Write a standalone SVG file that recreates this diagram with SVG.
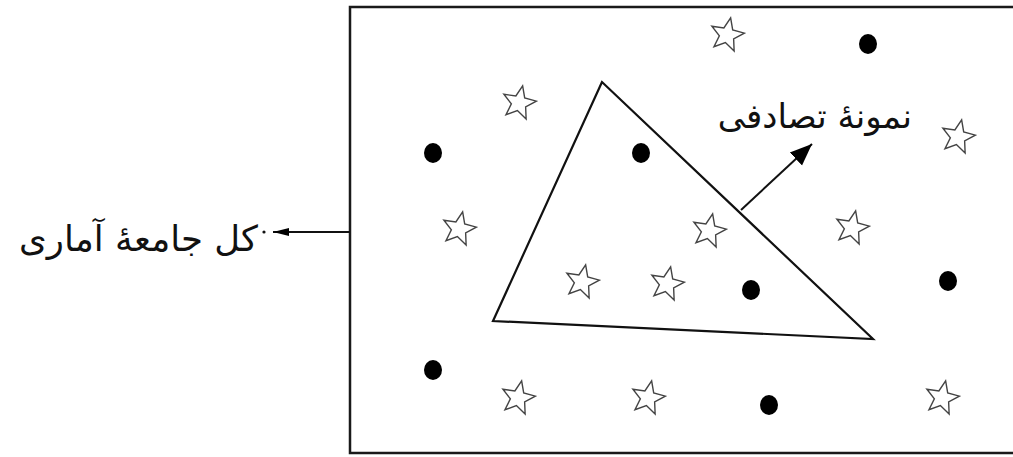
<svg xmlns="http://www.w3.org/2000/svg" width="1013" height="457" viewBox="0 0 1013 457">
<style>
.frame{fill:none;stroke:#1a1a1a;stroke-width:2.5}
.tri{fill:none;stroke:#111;stroke-width:2.2;stroke-linejoin:miter}
.dot{fill:#000}
.star{fill:none;stroke:#444;stroke-width:1.4;stroke-linejoin:miter}
.conn{fill:none;stroke:#111;stroke-width:2}
.lbl{font-family:"DejaVu Sans","Noto Sans",sans-serif;fill:#111}
</style>
<defs>
<path id="st" d="M0,-17.5 L4.5,-6.2 L16.6,-5.4 L7.3,2.4 L10.3,14.2 L0,7.7 L-10.3,14.2 L-7.3,2.4 L-16.6,-5.4 L-4.5,-6.2 Z"/>
<marker id="ahBig" markerWidth="24" markerHeight="20" refX="22" refY="10" orient="auto" markerUnits="userSpaceOnUse">
<path d="M0,1 L22,10 L0,19 Z" fill="#000"/>
</marker>
<marker id="ahSmall" markerWidth="18" markerHeight="10" refX="16" refY="5" orient="auto" markerUnits="userSpaceOnUse">
<path d="M0,1 L16,5 L0,9 Z" fill="#000"/>
</marker>
</defs>
<rect width="1013" height="457" fill="#fff"/>
<g id="population">
<path class="frame" d="M1020,7 L350,7 L350,453 L1020,453"/>
</g>
<g id="sample">
<polygon class="tri" points="602,82 493,321 873,339"/>
</g>
<g id="dots">
<ellipse class="dot" cx="868" cy="44" rx="9" ry="10"/>
<ellipse class="dot" cx="433" cy="153" rx="9" ry="10"/>
<ellipse class="dot" cx="641" cy="153" rx="9" ry="10"/>
<ellipse class="dot" cx="948" cy="281" rx="9" ry="10"/>
<ellipse class="dot" cx="751" cy="290" rx="9" ry="10"/>
<ellipse class="dot" cx="433" cy="370" rx="9" ry="10"/>
<ellipse class="dot" cx="769" cy="405" rx="9" ry="10"/>
</g>
<g id="stars">
<use href="#st" class="star" transform="translate(727,35) rotate(12)"/>
<use href="#st" class="star" transform="translate(519,103) rotate(12)"/>
<use href="#st" class="star" transform="translate(958,137) rotate(12)"/>
<use href="#st" class="star" transform="translate(459,229) rotate(12)"/>
<use href="#st" class="star" transform="translate(709,231) rotate(12)"/>
<use href="#st" class="star" transform="translate(852,228) rotate(12)"/>
<use href="#st" class="star" transform="translate(582,282) rotate(12)"/>
<use href="#st" class="star" transform="translate(667,284) rotate(12)"/>
<use href="#st" class="star" transform="translate(518,398) rotate(12)"/>
<use href="#st" class="star" transform="translate(648,398) rotate(12)"/>
<use href="#st" class="star" transform="translate(942,398) rotate(12)"/>
</g>
<g id="connectors">
<line class="conn" x1="350" y1="232" x2="273" y2="232" marker-end="url(#ahSmall)"/>
<line class="conn" x1="741" y1="210" x2="812" y2="144" marker-end="url(#ahBig)"/>
</g>
<g id="label-population">
<circle cx="264" cy="232" r="1.6" fill="#111"/>
<text class="lbl" x="258" y="251" font-size="35.5" text-anchor="end">کل جامعهٔ آماری</text>
</g>
<g id="label-sample">
<text class="lbl" x="912" y="128" font-size="34" text-anchor="end">نمونهٔ تصادفی</text>
</g>
</svg>
